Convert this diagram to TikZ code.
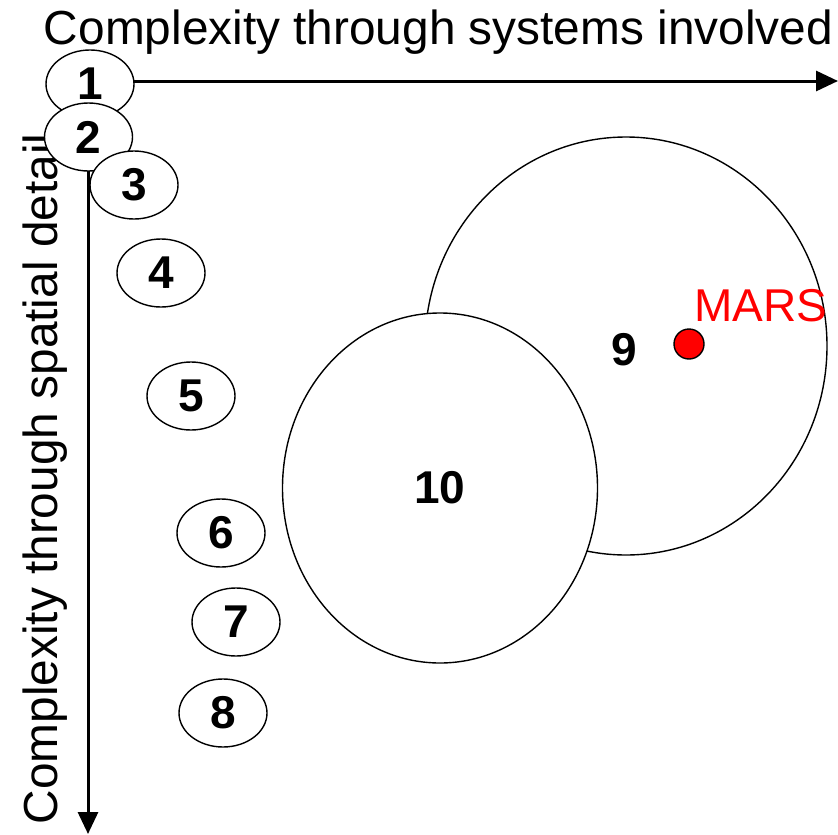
\documentclass[tikz,border=0pt]{standalone}
\usepackage{fontspec}
\setmainfont{Liberation Sans}
\usetikzlibrary{shapes.geometric,arrows.meta}
\tikzset{
  axis/.style={line width=3pt,-{Triangle[length=22pt,width=20pt]}},
  blob/.style={ellipse,draw,fill=white,line width=1.4pt,inner sep=0pt,
    minimum width=88pt,minimum height=68pt,font=\fontsize{46}{46}\selectfont\bfseries},
  big/.style={ellipse,draw,fill=white,line width=1.4pt,inner sep=0pt,
    font=\fontsize{46}{46}\selectfont\bfseries},
  axlabel/.style={font=\fontsize{47.8}{48}\selectfont,inner sep=0pt}
}
\begin{document}
\begin{tikzpicture}[x=1pt,y=-1pt]
\useasboundingbox (0,0) rectangle (838,835);
\coordinate (o) at (88,81);
\coordinate (xend) at (838,81);
\coordinate (yend) at (88,834);
\draw[axis] (o) -- (xend);
\draw[axis] (o) -- (yend);
\node[axlabel,anchor=base] (tx) at (438.5,44) {Complexity through systems involved};
\node[axlabel,anchor=base,rotate=90] (ty) at (57,479) {Complexity through spatial detail};
\node[blob] (e1) at (90,84) {1};
\node[blob] (e2) at (88.5,137) {2};
\node[blob] (e3) at (134,185) {3};
\node[blob] (e4) at (161,273) {4};
\node[blob] (e5) at (191,396) {5};
\node[blob] (e6) at (221,533) {6};
\node[blob] (e7) at (236,622) {7};
\node[blob] (e8) at (223,713) {8};
\node[big,minimum width=402pt,minimum height=418pt] (e9) at (626,346) {};
\node[font=\fontsize{46}{46}\selectfont\bfseries,inner sep=0pt] (l9) at (624,350) {9};
\node[big,minimum width=315pt,minimum height=350pt] (e10) at (440,488) {10};
\node[circle,draw,fill=red,line width=1.4pt,minimum size=30pt,inner sep=0pt] (mars) at (689,344) {};
\node[font=\fontsize{46}{46}\selectfont,text=red,anchor=base west,inner sep=0pt] (tm) at (694,321) {MARS};
\end{tikzpicture}
\end{document}
